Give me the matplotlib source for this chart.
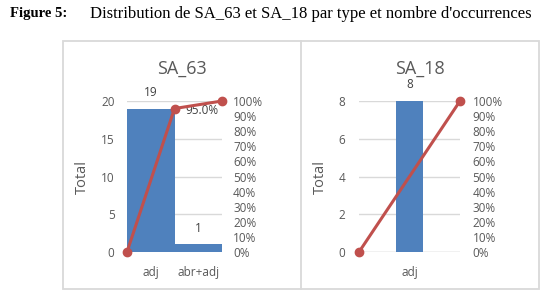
import matplotlib.pyplot as plt
from matplotlib.patches import Rectangle
from matplotlib.lines import Line2D

# SA_63
cats_63 = ["adj", "abr+adj"]
counts_63 = [19, 1]
cum_pct_63 = [0, 95.0, 100]

# SA_18
cats_18 = ["adj"]
counts_18 = [8]
cum_pct_18 = [0, 100]

W, H = 556, 302
BLUE = "#4F81BD"
RED = "#C0504D"
GRID = "#D9D9D9"
TXT = "#595959"
SANS = ["Open Sans", "DejaVu Sans"]

plt.rcParams["font.family"] = SANS

fig = plt.figure(figsize=(W / 100, H / 100), dpi=100)


def px_rect(x0, x1, y_top, y_bot):
    return [x0 / W, 1 - y_bot / H, (x1 - x0) / W, (y_bot - y_top) / H]


def fx(x):
    return x / W


def fy(y):
    return 1 - y / H


# outer frame with divider
fig.add_artist(Rectangle((fx(63), fy(289)), fx(539) - fx(63), fy(41) - fy(289),
                         transform=fig.transFigure, fill=False, edgecolor=GRID, lw=1.3))
fig.add_artist(Line2D([fx(301), fx(301)], [fy(41), fy(289)],
                      transform=fig.transFigure, color=GRID, lw=1.3))

# caption
fig.text(fx(10), fy(14), "Figure 5:", family="Liberation Serif", weight="bold",
         fontsize=10.5, va="center", ha="left")
fig.text(fx(90), fy(14), "Distribution de SA_63 et SA_18 par type et nombre d'occurrences",
         family="Liberation Serif", fontsize=12, va="center", ha="left")


def style(ax, ax2, left_pad, right_pad):
    for s in ax.spines.values():
        s.set_visible(False)
    for s in ax2.spines.values():
        s.set_visible(False)
    ax.grid(axis="y", color=GRID, lw=1)
    ax.set_axisbelow(True)
    ax.tick_params(axis="y", length=0, pad=left_pad, labelsize=8.5, labelcolor=TXT)
    ax.tick_params(axis="x", length=0, pad=10, labelsize=8.5, labelcolor=TXT)
    ax2.tick_params(axis="y", length=0, pad=right_pad, labelsize=8.5, labelcolor=TXT)
    ax2.set_ylim(0, 100)
    ax2.set_yticks(range(0, 101, 10))
    ax2.set_yticklabels([f"{v}%" for v in range(0, 101, 10)])


# ---- SA_63 ----
ax = fig.add_axes(px_rect(127, 222, 101, 252))
ax2 = ax.twinx()
ax.bar([0.5, 1.5], counts_63, width=1.0, color=BLUE, zorder=2)
ax.set_xlim(0, 2)
ax.set_ylim(0, 20)
ax.set_yticks([0, 5, 10, 15, 20])
ax.set_xticks([0.5, 1.5])
ax.set_xticklabels(cats_63)
ax.axhline(0, color=GRID, lw=1, zorder=1)
for x, v in zip([0.5, 1.5], counts_63):
    ax.annotate(str(v), (x, v), xytext=(0, 7), textcoords="offset points",
                ha="center", va="bottom", fontsize=8.5, color="#404040")
ax2.plot([0, 1, 2], cum_pct_63, color=RED, lw=2.2, marker="o", ms=6, clip_on=False, zorder=5)
ax2.annotate(f"{cum_pct_63[1]:.1f}%", (1, cum_pct_63[1]), xytext=(8, -1.5),
             textcoords="offset points", ha="left", va="center", fontsize=8.5, color="#404040")
style(ax, ax2, 9, 8)
ax.set_ylabel("Total", fontsize=10.5, color=TXT)
ax.yaxis.set_label_coords((90 - 127) / 95, 0.5)
fig.text(fx(182), fy(69), "SA_63", fontsize=13, color=TXT, ha="center", va="center")

# ---- SA_18 ----
bx = fig.add_axes(px_rect(359, 460, 101, 252))
bx2 = bx.twinx()
bx.bar([0.5], counts_18, width=0.27, color=BLUE, zorder=2)
bx.set_xlim(0, 1)
bx.set_ylim(0, 8)
bx.set_yticks([0, 2, 4, 6, 8])
bx.set_xticks([0.5])
bx.set_xticklabels(cats_18)
bx.axhline(0, color=GRID, lw=1, zorder=1)
bx.annotate(str(counts_18[0]), (0.5, counts_18[0]), xytext=(0, 7), textcoords="offset points",
            ha="center", va="bottom", fontsize=8.5, color="#404040")
bx2.plot([0, 1], cum_pct_18, color=RED, lw=2.2, marker="o", ms=6, clip_on=False, zorder=5)
style(bx, bx2, 10, 9)
bx.set_ylabel("Total", fontsize=10.5, color=TXT)
bx.yaxis.set_label_coords((328 - 359) / 101, 0.5)
fig.text(fx(420), fy(69), "SA_18", fontsize=13, color=TXT, ha="center", va="center")

fig.savefig("out.png", dpi=100)
